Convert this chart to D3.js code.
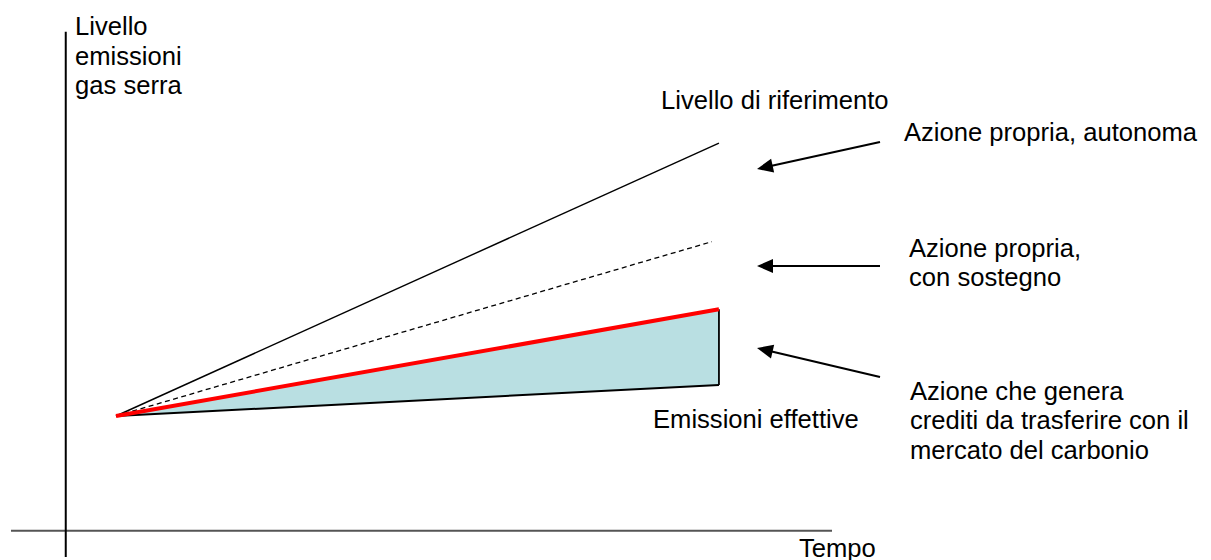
<!DOCTYPE html>
<html>
<head>
<meta charset="utf-8">
<script src="https://cdn.jsdelivr.net/npm/d3@7"></script>
<style>
  html, body { margin: 0; padding: 0; background: #fff; }
  svg { display: block; }
  text { font-family: "Liberation Sans", Arial, sans-serif; font-size: 25.6px; fill: #000; }
</style>
</head>
<body>
<svg id="chart" width="1211" height="560"></svg>
<script>
// ---- data (arbitrary units) ----
const timePoints = [1, 13];                 // start / end of the projection period
const referenceLevel = [10, 33.8];          // Livello di riferimento
const supportedLevel = [10, 25.2];          // Azione propria, con sostegno (dashed)
const ownActionLevel = [10, 19.3];          // red line
const actualEmissions = [10, 12.7];         // Emissioni effettive
const dashedEndTime = 12.86;
const xAxisExtent = [-1.09, 15.25];
const yAxisExtent = [-2.3, 43.5];

const axisLabelY = ["Livello", "emissioni", "gas serra"];
const axisLabelX = "Tempo";
const labelReference = "Livello di riferimento";
const labelActual = "Emissioni effettive";
const annotations = [
  ["Azione propria, autonoma"],
  ["Azione propria,", "con sostegno"],
  ["Azione che genera", "crediti da trasferire con il", "mercato del carbonio"]
];

// ---- scales ----
const x = d3.scaleLinear().domain([0, 15.25]).range([65.75, 832]);
const y = d3.scaleLinear().domain([0, 10]).range([530.7, 416]);

const svg = d3.select("#chart");
const line = d3.line().x(d => x(d[0])).y(d => y(d[1]));

// axes
svg.append("line")
  .attr("x1", x(xAxisExtent[0])).attr("x2", x(xAxisExtent[1]))
  .attr("y1", y(0)).attr("y2", y(0))
  .attr("stroke", "#555").attr("stroke-width", 2);
svg.append("line")
  .attr("x1", x(0)).attr("x2", x(0))
  .attr("y1", y(yAxisExtent[1])).attr("y2", y(yAxisExtent[0]))
  .attr("stroke", "#000").attr("stroke-width", 2);

// shaded area between own action and actual emissions
const areaPts = [
  [timePoints[0], ownActionLevel[0]],
  [timePoints[1], ownActionLevel[1]],
  [timePoints[1], actualEmissions[1]],
  [timePoints[0], actualEmissions[0]]
];
svg.append("path")
  .attr("d", line(areaPts) + "Z")
  .attr("fill", "#b9dfe2").attr("stroke", "none");

// actual emissions (bottom edge)
svg.append("path")
  .attr("d", line(timePoints.map((t, i) => [t, actualEmissions[i]])))
  .attr("stroke", "#000").attr("stroke-width", 2).attr("fill", "none");
// right vertical edge
svg.append("path")
  .attr("d", line([[timePoints[1], ownActionLevel[1]], [timePoints[1], actualEmissions[1]]]))
  .attr("stroke", "#000").attr("stroke-width", 1.8).attr("fill", "none");

// reference line
svg.append("path")
  .attr("d", line(timePoints.map((t, i) => [t, referenceLevel[i]])))
  .attr("stroke", "#000").attr("stroke-width", 1.4).attr("fill", "none");

// dashed line
svg.append("path")
  .attr("d", line([[timePoints[0], supportedLevel[0]], [dashedEndTime, supportedLevel[1]]]))
  .attr("stroke", "#000").attr("stroke-width", 1.3)
  .attr("stroke-dasharray", "5,3.5").attr("fill", "none");

// red line
svg.append("path")
  .attr("d", line(timePoints.map((t, i) => [t, ownActionLevel[i]])))
  .attr("stroke", "#ff0000").attr("stroke-width", 4).attr("fill", "none");

// arrows
const arrows = [
  { from: [880, 142], to: [757, 169] },
  { from: [880, 266], to: [757, 266] },
  { from: [880, 377], to: [757, 348] }
];
arrows.forEach(a => {
  const dx = a.to[0] - a.from[0], dy = a.to[1] - a.from[1];
  const len = Math.hypot(dx, dy);
  const ux = dx / len, uy = dy / len, px = -uy, py = ux;
  const hl = 16, hw = 7;
  const bx = a.to[0] - ux * hl, by = a.to[1] - uy * hl;
  svg.append("line")
    .attr("x1", a.from[0]).attr("y1", a.from[1])
    .attr("x2", bx + ux * 2).attr("y2", by + uy * 2)
    .attr("stroke", "#000").attr("stroke-width", 2.2);
  svg.append("path")
    .attr("d", `M${a.to[0]},${a.to[1]} L${bx + px * hw},${by + py * hw} L${bx - px * hw},${by - py * hw} Z`)
    .attr("fill", "#000");
});

// texts
const yLab = svg.append("text").attr("x", 75).attr("y", 35);
axisLabelY.forEach((t, i) => yLab.append("tspan").attr("x", 75).attr("dy", i === 0 ? 0 : 29.5).text(t));

svg.append("text").attr("x", 799).attr("y", 557).text(axisLabelX);
svg.append("text").attr("x", 661).attr("y", 109).text(labelReference);
svg.append("text").attr("x", 653).attr("y", 428).text(labelActual);

const annPos = [[904, 141], [909, 257], [910, 400]];
annotations.forEach((lines, k) => {
  const t = svg.append("text").attr("x", annPos[k][0]).attr("y", annPos[k][1]);
  lines.forEach((s, i) => t.append("tspan").attr("x", annPos[k][0]).attr("dy", i === 0 ? 0 : 29.3).text(s));
});
</script>
</body>
</html>
